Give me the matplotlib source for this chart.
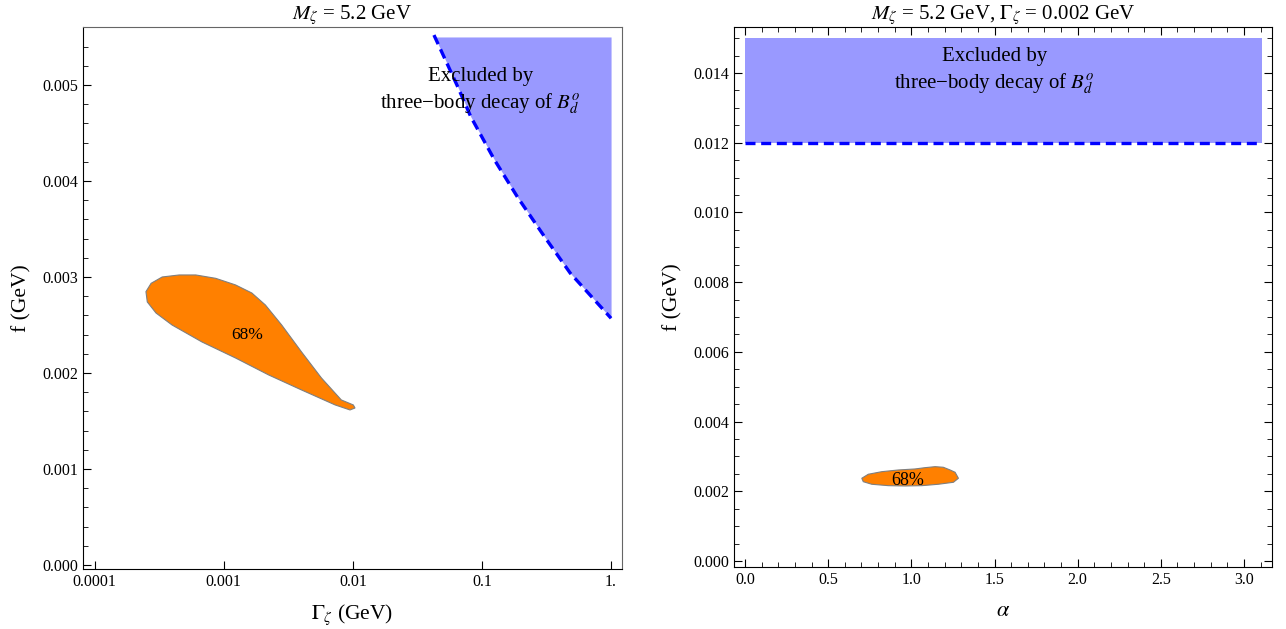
import matplotlib
matplotlib.use("Agg")
import matplotlib.pyplot as plt
import numpy as np
from matplotlib.ticker import FixedLocator, FixedFormatter, MultipleLocator, FormatStrFormatter, NullLocator

plt.rcParams['font.family'] = ['Liberation Serif', 'DejaVu Serif']
plt.rcParams['mathtext.fontset'] = 'stix'

# ---- left panel data: f vs Gamma ----
# exclusion boundary (Gamma in GeV, f in GeV)
excl_gamma = [0.0425, 0.065, 0.0819, 0.125, 0.189, 0.305, 0.483, 1.0]
excl_f = [0.00552, 0.00498, 0.00467, 0.00422, 0.00383, 0.00342, 0.00304, 0.00257]
excl_top = 0.0055

# 68% region outline
c68_gamma = [0.000250, 0.000274, 0.000334, 0.000452, 0.000608, 0.000867, 0.001236,
             0.001652, 0.002104, 0.002812, 0.004009, 0.005715, 0.008147, 0.01009,
             0.0104, 0.00951, 0.00730, 0.00401, 0.002234, 0.001236, 0.000679,
             0.000398, 0.000299, 0.000256]
c68_f = [0.002847, 0.002934, 0.003000, 0.003021, 0.003021, 0.002986, 0.002917,
         0.002833, 0.002708, 0.002500, 0.002219, 0.001948, 0.001719, 0.001667,
         0.001635, 0.001615, 0.001667, 0.001823, 0.001979, 0.002156, 0.002323,
         0.002500, 0.002625, 0.002740]

gamma_ticks = [0.0001, 0.001, 0.01, 0.1, 1.0]
gamma_labels = ["0.0001", "0.001", "0.01", "0.1", "1."]

# ---- right panel data: f vs alpha ----
alpha_range = [0.0, 3.11]
excl_f_low = 0.012
excl_f_high = 0.015

c68b_alpha = [0.702, 0.741, 0.822, 0.922, 1.022, 1.082, 1.143, 1.192, 1.233, 1.263,
              1.283, 1.253, 1.162, 1.063, 0.962, 0.862, 0.762, 0.711]
c68b_f = [0.002373, 0.002488, 0.002562, 0.002611, 0.002640, 0.002677, 0.002706,
          0.002689, 0.002611, 0.002545, 0.002373, 0.002258, 0.002201, 0.002161,
          0.002152, 0.002161, 0.002201, 0.002275]

orange = '#FF8000'
fill_blue = '#9999FF'
line_blue = '#0000FF'
excl_text = "Excluded by\nthree\u2212body decay of $B_d^o$"

fig = plt.figure(figsize=(12.86, 6.29), dpi=100)
ax1 = fig.add_axes([0.0645, 0.0954, 0.4192, 0.8617])
ax2 = fig.add_axes([0.5708, 0.0986, 0.4184, 0.8585])

# left
ax1.set_xscale('log')
ax1.fill_between(excl_gamma, excl_f, excl_top, color=fill_blue, lw=0)
ax1.plot(excl_gamma, excl_f, color=line_blue, lw=2.4, dashes=(3, 1.7))
ax1.fill(c68_gamma, c68_f, facecolor=orange, edgecolor='#7f7f7f', lw=0.8)
ax1.text(0.00151, 0.0024, "68%", ha='center', va='center', fontsize=12.5)
ax1.text(0.098, 0.00493, excl_text, ha='center', va='center',
         multialignment='center', fontsize=15, linespacing=1.35)
ax1.set_xlim(10 ** -4.09, 10 ** 0.085)
ax1.set_ylim(-0.0000417, 0.005604)
ax1.xaxis.set_major_locator(FixedLocator(gamma_ticks))
ax1.xaxis.set_major_formatter(FixedFormatter(gamma_labels))
ax1.xaxis.set_minor_locator(NullLocator())
ax1.yaxis.set_major_locator(MultipleLocator(0.001))
ax1.yaxis.set_minor_locator(MultipleLocator(0.0002))
ax1.yaxis.set_major_formatter(FormatStrFormatter('%.3f'))
ax1.tick_params(which='both', direction='in', top=False, right=False, labelsize=11.5)
ax1.tick_params(which='major', length=6)
ax1.tick_params(which='minor', length=3.5)
for s in ['top', 'right']:
    ax1.spines[s].set_color('#666666')
ax1.set_xlabel(r"$\Gamma_\zeta$ (GeV)", fontsize=15.5, labelpad=9)
ax1.set_ylabel("f (GeV)", fontsize=15.5, labelpad=8)
ax1.set_title(r"$M_\zeta$ = 5.2 GeV", fontsize=15, pad=3)

# right
ax2.fill_between(alpha_range, excl_f_low, excl_f_high, color=fill_blue, lw=0)
ax2.plot(alpha_range, [excl_f_low, excl_f_low], color=line_blue, lw=2.4, dashes=(3, 1.7))
ax2.fill(c68b_alpha, c68b_f, facecolor=orange, edgecolor='#7f7f7f', lw=0.8)
ax2.text(0.98, 0.00232, "68%", ha='center', va='center', fontsize=13)
ax2.text(1.50, 0.01405, excl_text, ha='center', va='center',
         multialignment='center', fontsize=15, linespacing=1.35)
ax2.set_xlim(-0.066, 3.169)
ax2.set_ylim(-0.000172, 0.01532)
ax2.xaxis.set_major_locator(MultipleLocator(0.5))
ax2.xaxis.set_minor_locator(MultipleLocator(0.1))
ax2.xaxis.set_major_formatter(FormatStrFormatter('%.1f'))
ax2.yaxis.set_major_locator(MultipleLocator(0.002))
ax2.yaxis.set_minor_locator(MultipleLocator(0.0005))
ax2.yaxis.set_major_formatter(FormatStrFormatter('%.3f'))
ax2.tick_params(which='both', direction='in', top=True, right=True, labelsize=11.5)
ax2.tick_params(which='major', length=6)
ax2.tick_params(which='minor', length=3.5)
ax2.set_xlabel(r"$\alpha$", fontsize=16, labelpad=10)
ax2.set_ylabel("f (GeV)", fontsize=15.5, labelpad=8)
ax2.set_title(r"$M_\zeta$ = 5.2 GeV, $\Gamma_\zeta$ = 0.002 GeV", fontsize=15, pad=3)

fig.savefig("out.png", dpi=100)
